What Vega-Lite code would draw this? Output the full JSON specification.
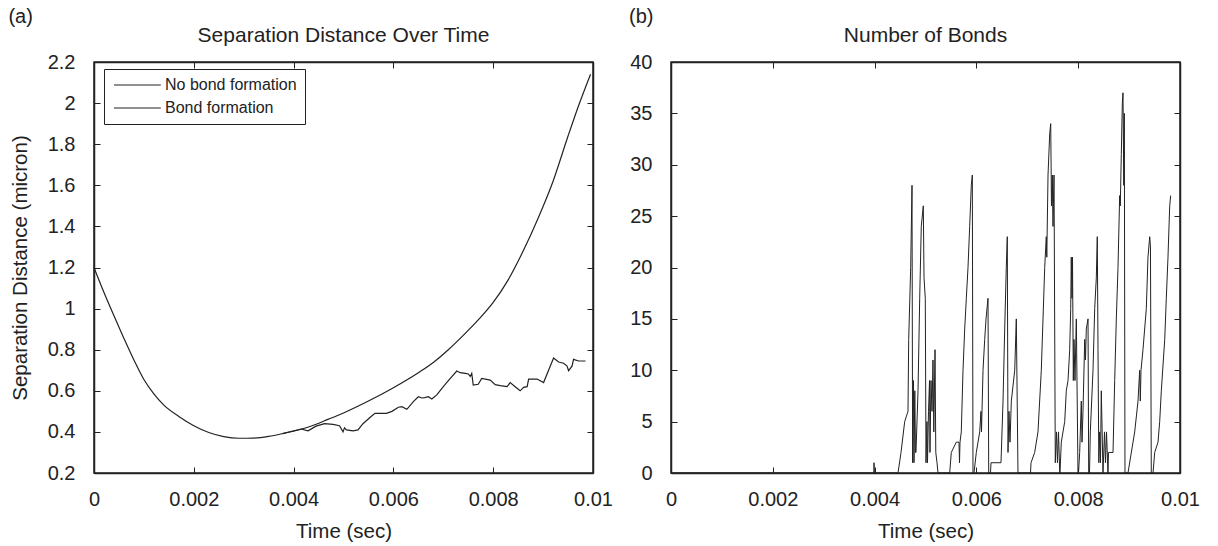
{
  "$schema": "https://vega.github.io/schema/vega-lite/v6.json",
  "background": "white",
  "padding": {"left": 8, "top": 7, "right": 10, "bottom": 2},
  "config": {
    "font": "Liberation Sans",
    "view": {"stroke": "#222", "strokeWidth": 1.5},
    "axis": {"domainColor": "#222", "domainWidth": 1.5, "tickColor": "#222", "tickSize": -6, "tickWidth": 1, "labelFontSize": 20, "labelColor": "#222", "labelFlush": false, "titleFontSize": 20.5, "titleFontWeight": "normal", "titleColor": "#222", "grid": false, "labelFont": "Liberation Sans", "titleFont": "Liberation Sans"},
    "title": {"fontSize": 21, "fontWeight": "normal", "color": "#222", "font": "Liberation Sans"},
    "legend": {"labelFontSize": 16, "labelColor": "#222", "labelFont": "Liberation Sans"}
  },
  "datasets": {
    "sep": [
      {"t": 0, "d": 1.2, "series": "No bond formation"},
      {"t": 0.0001, "d": 1.138, "series": "No bond formation"},
      {"t": 0.0002, "d": 1.078, "series": "No bond formation"},
      {"t": 0.0004, "d": 0.965, "series": "No bond formation"},
      {"t": 0.0006, "d": 0.855, "series": "No bond formation"},
      {"t": 0.0008, "d": 0.75, "series": "No bond formation"},
      {"t": 0.001, "d": 0.655, "series": "No bond formation"},
      {"t": 0.0012, "d": 0.585, "series": "No bond formation"},
      {"t": 0.0014, "d": 0.53, "series": "No bond formation"},
      {"t": 0.0017, "d": 0.475, "series": "No bond formation"},
      {"t": 0.002, "d": 0.43, "series": "No bond formation"},
      {"t": 0.0023, "d": 0.397, "series": "No bond formation"},
      {"t": 0.0026, "d": 0.377, "series": "No bond formation"},
      {"t": 0.0029, "d": 0.369, "series": "No bond formation"},
      {"t": 0.0032, "d": 0.37, "series": "No bond formation"},
      {"t": 0.0035, "d": 0.378, "series": "No bond formation"},
      {"t": 0.0038, "d": 0.393, "series": "No bond formation"},
      {"t": 0.0043, "d": 0.424, "series": "No bond formation"},
      {"t": 0.0047, "d": 0.462, "series": "No bond formation"},
      {"t": 0.005, "d": 0.492, "series": "No bond formation"},
      {"t": 0.0055, "d": 0.55, "series": "No bond formation"},
      {"t": 0.006, "d": 0.615, "series": "No bond formation"},
      {"t": 0.0065, "d": 0.688, "series": "No bond formation"},
      {"t": 0.0068, "d": 0.738, "series": "No bond formation"},
      {"t": 0.0071, "d": 0.8, "series": "No bond formation"},
      {"t": 0.0074, "d": 0.87, "series": "No bond formation"},
      {"t": 0.0077, "d": 0.945, "series": "No bond formation"},
      {"t": 0.008, "d": 1.03, "series": "No bond formation"},
      {"t": 0.0083, "d": 1.14, "series": "No bond formation"},
      {"t": 0.0086, "d": 1.28, "series": "No bond formation"},
      {"t": 0.0089, "d": 1.44, "series": "No bond formation"},
      {"t": 0.0092, "d": 1.62, "series": "No bond formation"},
      {"t": 0.0095, "d": 1.84, "series": "No bond formation"},
      {"t": 0.0097, "d": 1.98, "series": "No bond formation"},
      {"t": 0.00995, "d": 2.14, "series": "No bond formation"},
      {"t": 0.0038, "d": 0.393, "series": "Bond formation"},
      {"t": 0.00415, "d": 0.414, "series": "Bond formation"},
      {"t": 0.00429, "d": 0.405, "series": "Bond formation"},
      {"t": 0.00445, "d": 0.428, "series": "Bond formation"},
      {"t": 0.00462, "d": 0.44, "series": "Bond formation"},
      {"t": 0.00479, "d": 0.437, "series": "Bond formation"},
      {"t": 0.00492, "d": 0.43, "series": "Bond formation"},
      {"t": 0.00499, "d": 0.4, "series": "Bond formation"},
      {"t": 0.00502, "d": 0.42, "series": "Bond formation"},
      {"t": 0.00506, "d": 0.41, "series": "Bond formation"},
      {"t": 0.00519, "d": 0.405, "series": "Bond formation"},
      {"t": 0.00529, "d": 0.41, "series": "Bond formation"},
      {"t": 0.00539, "d": 0.44, "series": "Bond formation"},
      {"t": 0.00553, "d": 0.47, "series": "Bond formation"},
      {"t": 0.00563, "d": 0.49, "series": "Bond formation"},
      {"t": 0.00586, "d": 0.49, "series": "Bond formation"},
      {"t": 0.00597, "d": 0.5, "series": "Bond formation"},
      {"t": 0.0061, "d": 0.52, "series": "Bond formation"},
      {"t": 0.00617, "d": 0.523, "series": "Bond formation"},
      {"t": 0.00627, "d": 0.51, "series": "Bond formation"},
      {"t": 0.0064, "d": 0.547, "series": "Bond formation"},
      {"t": 0.0065, "d": 0.571, "series": "Bond formation"},
      {"t": 0.00657, "d": 0.565, "series": "Bond formation"},
      {"t": 0.00663, "d": 0.567, "series": "Bond formation"},
      {"t": 0.0067, "d": 0.571, "series": "Bond formation"},
      {"t": 0.00677, "d": 0.56, "series": "Bond formation"},
      {"t": 0.00687, "d": 0.58, "series": "Bond formation"},
      {"t": 0.007, "d": 0.62, "series": "Bond formation"},
      {"t": 0.00714, "d": 0.66, "series": "Bond formation"},
      {"t": 0.00727, "d": 0.696, "series": "Bond formation"},
      {"t": 0.00734, "d": 0.688, "series": "Bond formation"},
      {"t": 0.00744, "d": 0.685, "series": "Bond formation"},
      {"t": 0.0075, "d": 0.682, "series": "Bond formation"},
      {"t": 0.00754, "d": 0.67, "series": "Bond formation"},
      {"t": 0.00757, "d": 0.685, "series": "Bond formation"},
      {"t": 0.0076, "d": 0.628, "series": "Bond formation"},
      {"t": 0.0077, "d": 0.632, "series": "Bond formation"},
      {"t": 0.00777, "d": 0.66, "series": "Bond formation"},
      {"t": 0.00794, "d": 0.652, "series": "Bond formation"},
      {"t": 0.00804, "d": 0.63, "series": "Bond formation"},
      {"t": 0.00814, "d": 0.625, "series": "Bond formation"},
      {"t": 0.00828, "d": 0.62, "series": "Bond formation"},
      {"t": 0.00834, "d": 0.64, "series": "Bond formation"},
      {"t": 0.00844, "d": 0.62, "series": "Bond formation"},
      {"t": 0.00854, "d": 0.6, "series": "Bond formation"},
      {"t": 0.00861, "d": 0.617, "series": "Bond formation"},
      {"t": 0.00868, "d": 0.62, "series": "Bond formation"},
      {"t": 0.00871, "d": 0.657, "series": "Bond formation"},
      {"t": 0.00888, "d": 0.657, "series": "Bond formation"},
      {"t": 0.00901, "d": 0.64, "series": "Bond formation"},
      {"t": 0.00911, "d": 0.7, "series": "Bond formation"},
      {"t": 0.00921, "d": 0.76, "series": "Bond formation"},
      {"t": 0.00931, "d": 0.74, "series": "Bond formation"},
      {"t": 0.00941, "d": 0.734, "series": "Bond formation"},
      {"t": 0.00948, "d": 0.72, "series": "Bond formation"},
      {"t": 0.00951, "d": 0.698, "series": "Bond formation"},
      {"t": 0.00958, "d": 0.72, "series": "Bond formation"},
      {"t": 0.00961, "d": 0.753, "series": "Bond formation"},
      {"t": 0.00971, "d": 0.745, "series": "Bond formation"},
      {"t": 0.00985, "d": 0.745, "series": "Bond formation"}
    ],
    "bonds": [
      {"t": 0, "n": 0}, {"t": 0.003986, "n": 0}, {"t": 0.003988, "n": 1}, {"t": 0.003996, "n": 0},
      {"t": 0.00446, "n": 0}, {"t": 0.004519, "n": 2}, {"t": 0.004591, "n": 5}, {"t": 0.004656, "n": 6}, {"t": 0.00467, "n": 13}, {"t": 0.004709, "n": 20}, {"t": 0.004735, "n": 28},
      {"t": 0.004747, "n": 1}, {"t": 0.004764, "n": 9}, {"t": 0.004774, "n": 1}, {"t": 0.00479, "n": 8}, {"t": 0.004803, "n": 2}, {"t": 0.004813, "n": 2},
      {"t": 0.004853, "n": 8}, {"t": 0.004886, "n": 17}, {"t": 0.004917, "n": 24}, {"t": 0.004957, "n": 26}, {"t": 0.004971, "n": 19}, {"t": 0.004996, "n": 17},
      {"t": 0.00501, "n": 1}, {"t": 0.005029, "n": 5}, {"t": 0.005039, "n": 1}, {"t": 0.005059, "n": 6}, {"t": 0.005079, "n": 9}, {"t": 0.005088, "n": 2}, {"t": 0.005108, "n": 9}, {"t": 0.005128, "n": 6}, {"t": 0.005147, "n": 11}, {"t": 0.005163, "n": 4}, {"t": 0.005187, "n": 12}, {"t": 0.005202, "n": 2}, {"t": 0.005226, "n": 1}, {"t": 0.005246, "n": 0},
      {"t": 0.005475, "n": 0}, {"t": 0.005507, "n": 2}, {"t": 0.005605, "n": 3}, {"t": 0.005658, "n": 3}, {"t": 0.005668, "n": 1}, {"t": 0.005678, "n": 3}, {"t": 0.005703, "n": 4}, {"t": 0.005737, "n": 10}, {"t": 0.00577, "n": 14}, {"t": 0.005802, "n": 17}, {"t": 0.005835, "n": 20}, {"t": 0.005868, "n": 24}, {"t": 0.0059, "n": 28}, {"t": 0.00592, "n": 29}, {"t": 0.005933, "n": 0},
      {"t": 0.005953, "n": 0}, {"t": 0.005998, "n": 2}, {"t": 0.006065, "n": 4}, {"t": 0.00609, "n": 6}, {"t": 0.0061, "n": 4}, {"t": 0.00611, "n": 6}, {"t": 0.00613, "n": 10}, {"t": 0.006163, "n": 13}, {"t": 0.006189, "n": 15}, {"t": 0.006228, "n": 17}, {"t": 0.006242, "n": 0},
      {"t": 0.006277, "n": 0}, {"t": 0.006287, "n": 1}, {"t": 0.006483, "n": 1}, {"t": 0.006523, "n": 7}, {"t": 0.006556, "n": 14}, {"t": 0.006587, "n": 20}, {"t": 0.006607, "n": 23}, {"t": 0.006621, "n": 2}, {"t": 0.00664, "n": 6}, {"t": 0.00666, "n": 3}, {"t": 0.006686, "n": 7}, {"t": 0.006753, "n": 10}, {"t": 0.006784, "n": 15}, {"t": 0.006817, "n": 0},
      {"t": 0.007063, "n": 0}, {"t": 0.007073, "n": 1}, {"t": 0.007145, "n": 2}, {"t": 0.00721, "n": 4}, {"t": 0.007275, "n": 10}, {"t": 0.007342, "n": 20}, {"t": 0.007373, "n": 23}, {"t": 0.007383, "n": 21}, {"t": 0.007407, "n": 29}, {"t": 0.00744, "n": 33}, {"t": 0.00746, "n": 34}, {"t": 0.007475, "n": 26}, {"t": 0.007491, "n": 29}, {"t": 0.007505, "n": 24}, {"t": 0.007525, "n": 29}, {"t": 0.00755, "n": 1}, {"t": 0.007574, "n": 4}, {"t": 0.007593, "n": 1}, {"t": 0.007613, "n": 4}, {"t": 0.007637, "n": 0},
      {"t": 0.007642, "n": 0}, {"t": 0.007668, "n": 3}, {"t": 0.007735, "n": 5}, {"t": 0.007766, "n": 8}, {"t": 0.0078, "n": 9}, {"t": 0.007833, "n": 12}, {"t": 0.007853, "n": 16}, {"t": 0.007864, "n": 21}, {"t": 0.007878, "n": 17}, {"t": 0.007888, "n": 21}, {"t": 0.007904, "n": 9}, {"t": 0.007917, "n": 13}, {"t": 0.007937, "n": 9}, {"t": 0.007963, "n": 15}, {"t": 0.007996, "n": 0},
      {"t": 0.008006, "n": 0}, {"t": 0.008029, "n": 2}, {"t": 0.008061, "n": 7}, {"t": 0.008075, "n": 3}, {"t": 0.008094, "n": 6}, {"t": 0.008128, "n": 13}, {"t": 0.008143, "n": 11}, {"t": 0.008159, "n": 14}, {"t": 0.008193, "n": 15}, {"t": 0.008206, "n": 0},
      {"t": 0.008222, "n": 0}, {"t": 0.008238, "n": 4}, {"t": 0.008291, "n": 10}, {"t": 0.008324, "n": 16}, {"t": 0.008356, "n": 19}, {"t": 0.008375, "n": 23}, {"t": 0.008389, "n": 12}, {"t": 0.008405, "n": 1}, {"t": 0.008422, "n": 4}, {"t": 0.008438, "n": 1}, {"t": 0.008454, "n": 8}, {"t": 0.008487, "n": 0}, {"t": 0.008517, "n": 4}, {"t": 0.008536, "n": 1}, {"t": 0.008556, "n": 4}, {"t": 0.008585, "n": 0},
      {"t": 0.008595, "n": 2}, {"t": 0.008684, "n": 2}, {"t": 0.008717, "n": 9}, {"t": 0.008749, "n": 15}, {"t": 0.008782, "n": 20}, {"t": 0.008815, "n": 27}, {"t": 0.008827, "n": 26}, {"t": 0.008847, "n": 31}, {"t": 0.008867, "n": 36}, {"t": 0.00888, "n": 37}, {"t": 0.008896, "n": 28}, {"t": 0.008906, "n": 35}, {"t": 0.008919, "n": 0},
      {"t": 0.008978, "n": 0}, {"t": 0.00911, "n": 4}, {"t": 0.009175, "n": 7}, {"t": 0.009208, "n": 10}, {"t": 0.00922, "n": 7}, {"t": 0.009234, "n": 10}, {"t": 0.009273, "n": 12}, {"t": 0.009338, "n": 16}, {"t": 0.009371, "n": 21}, {"t": 0.009405, "n": 23}, {"t": 0.00942, "n": 22}, {"t": 0.009436, "n": 0},
      {"t": 0.00947, "n": 0}, {"t": 0.009503, "n": 2}, {"t": 0.009568, "n": 3}, {"t": 0.009601, "n": 5}, {"t": 0.009633, "n": 8}, {"t": 0.0097, "n": 13}, {"t": 0.009731, "n": 17}, {"t": 0.009764, "n": 21}, {"t": 0.009798, "n": 26}, {"t": 0.009817, "n": 27}
    ]
  },
  "hconcat": [
    {
      "title": {"text": "(a)", "anchor": "start", "dx": -1, "offset": -3, "fontSize": 20},
      "vconcat": [
        {
          "title": {"text": "Separation Distance Over Time", "anchor": "middle", "frame": "group", "offset": 6},
          "width": 499,
          "height": 411,
          "data": {"name": "sep"},
          "layer": [
            {
              "transform": [{"filter": "datum.series === 'No bond formation'"}],
              "mark": {"type": "line", "strokeWidth": 1.2, "interpolate": "monotone"},
              "encoding": {
                "x": {"field": "t", "type": "quantitative", "scale": {"domain": [0, 0.01], "nice": false}, "axis": {"orient": "bottom", "title": "Time (sec)", "values": [0, 0.002, 0.004, 0.006, 0.008, 0.01], "format": "~g", "labelPadding": 22, "titlePadding": 12}},
                "y": {"field": "d", "type": "quantitative", "scale": {"domain": [0.2, 2.2], "nice": false, "zero": false}, "axis": {"orient": "left", "title": "Separation Distance (micron)", "values": [0.2, 0.4, 0.6, 0.8, 1, 1.2, 1.4, 1.6, 1.8, 2, 2.2], "format": "~g", "labelPadding": 25, "titlePadding": 17}},
                "color": {"field": "series", "type": "nominal", "scale": {"domain": ["No bond formation", "Bond formation"], "range": ["#222222", "#222222"]}, "legend": {"title": null, "orient": "none", "legendX": 10, "legendY": 7, "strokeColor": "#222", "fillColor": "white", "padding": 8, "symbolType": "M-1,0H6.8", "symbolSize": 144, "symbolStrokeWidth": 1.2, "symbolFillColor": "transparent", "labelOffset": 37, "rowPadding": 7}}
              }
            },
            {
              "transform": [{"filter": "datum.series === 'Bond formation'"}],
              "mark": {"type": "line", "strokeWidth": 1.2},
              "encoding": {
                "x": {"field": "t", "type": "quantitative", "axis": null},
                "y": {"field": "d", "type": "quantitative", "axis": null},
                "color": {"field": "series", "type": "nominal"}
              }
            },
            {
              "mark": {"type": "line", "strokeOpacity": 0},
              "encoding": {
                "x": {"field": "t", "type": "quantitative", "axis": {"orient": "top", "title": null, "labels": false, "values": [0, 0.002, 0.004, 0.006, 0.008, 0.01]}},
                "y": {"field": "d", "type": "quantitative", "axis": {"orient": "right", "title": null, "labels": false, "values": [0.2, 0.4, 0.6, 0.8, 1, 1.2, 1.4, 1.6, 1.8, 2, 2.2]}},
                "detail": {"field": "series"}
              }
            }
          ],
          "resolve": {"axis": {"x": "independent", "y": "independent"}}
        }
      ]
    },
    {
      "title": {"text": "(b)", "anchor": "start", "offset": -3, "fontSize": 20},
      "vconcat": [
        {
          "title": {"text": "Number of Bonds", "anchor": "middle", "frame": "group", "offset": 6},
          "width": 509,
          "height": 411,
          "data": {"name": "bonds"},
          "layer": [
            {
              "mark": {"type": "line", "strokeWidth": 1, "color": "#222"},
              "encoding": {
                "x": {"field": "t", "type": "quantitative", "scale": {"domain": [0, 0.01], "nice": false}, "axis": {"orient": "bottom", "title": "Time (sec)", "values": [0, 0.002, 0.004, 0.006, 0.008, 0.01], "format": "~g", "labelPadding": 22, "titlePadding": 12}},
                "y": {"field": "n", "type": "quantitative", "scale": {"domain": [0, 40], "nice": false}, "axis": {"orient": "left", "title": null, "values": [0, 5, 10, 15, 20, 25, 30, 35, 40], "format": "~g", "labelPadding": 25}}
              }
            },
            {
              "mark": {"type": "line", "strokeOpacity": 0},
              "encoding": {
                "x": {"field": "t", "type": "quantitative", "axis": {"orient": "top", "title": null, "labels": false, "values": [0, 0.002, 0.004, 0.006, 0.008, 0.01]}},
                "y": {"field": "n", "type": "quantitative", "axis": {"orient": "right", "title": null, "labels": false, "values": [0, 5, 10, 15, 20, 25, 30, 35, 40]}}
              }
            }
          ],
          "resolve": {"axis": {"x": "independent", "y": "independent"}}
        }
      ]
    }
  ],
  "spacing": 15
}
